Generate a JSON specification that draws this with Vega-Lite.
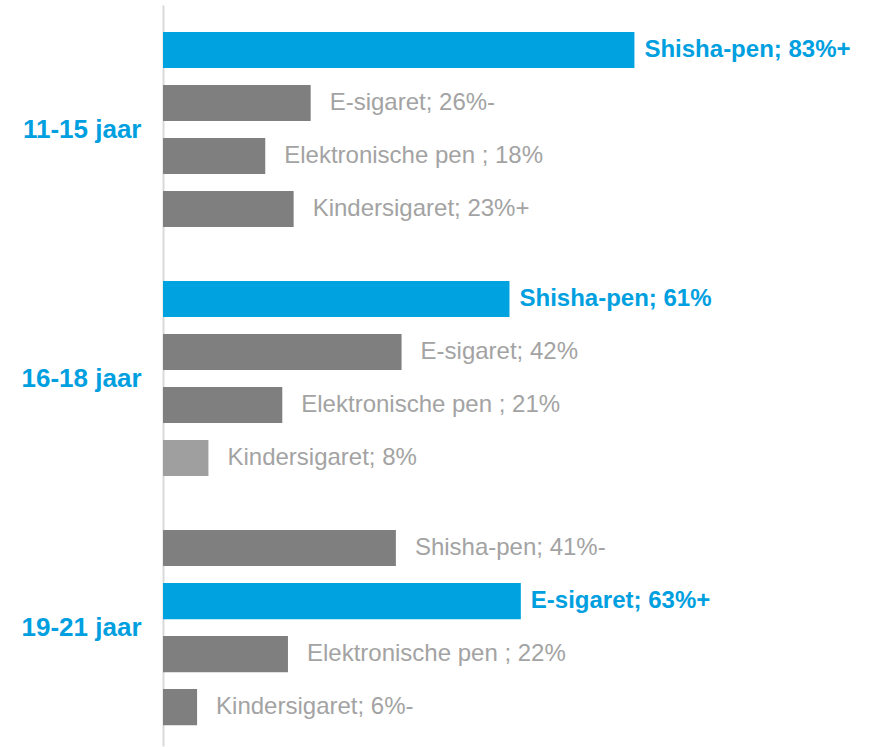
{
  "$schema": "https://vega.github.io/schema/vega-lite/v6.json",
  "autosize": "none",
  "width": 568,
  "height": 741,
  "padding": {"left": 163, "top": 5, "right": 148, "bottom": 1},
  "background": "white",
  "config": {"view": {"stroke": null}, "font": "Liberation Sans"},
  "data": {
    "values": [
      {"groep": "11-15 jaar", "product": "Shisha-pen", "pct": 83, "label": "Shisha-pen; 83%+", "markering": "hoogste"},
      {"groep": "11-15 jaar", "product": "E-sigaret", "pct": 26, "label": "E-sigaret; 26%-", "markering": "overig"},
      {"groep": "11-15 jaar", "product": "Elektronische pen", "pct": 18, "label": "Elektronische pen ; 18%", "markering": "overig"},
      {"groep": "11-15 jaar", "product": "Kindersigaret", "pct": 23, "label": "Kindersigaret; 23%+", "markering": "overig"},
      {"groep": "16-18 jaar", "product": "Shisha-pen", "pct": 61, "label": "Shisha-pen; 61%", "markering": "hoogste"},
      {"groep": "16-18 jaar", "product": "E-sigaret", "pct": 42, "label": "E-sigaret; 42%", "markering": "overig"},
      {"groep": "16-18 jaar", "product": "Elektronische pen", "pct": 21, "label": "Elektronische pen ; 21%", "markering": "overig"},
      {"groep": "16-18 jaar", "product": "Kindersigaret", "pct": 8, "label": "Kindersigaret; 8%", "markering": "licht"},
      {"groep": "19-21 jaar", "product": "Shisha-pen", "pct": 41, "label": "Shisha-pen; 41%-", "markering": "overig"},
      {"groep": "19-21 jaar", "product": "E-sigaret", "pct": 63, "label": "E-sigaret; 63%+", "markering": "hoogste"},
      {"groep": "19-21 jaar", "product": "Elektronische pen", "pct": 22, "label": "Elektronische pen ; 22%", "markering": "overig"},
      {"groep": "19-21 jaar", "product": "Kindersigaret", "pct": 6, "label": "Kindersigaret; 6%-", "markering": "overig"}
    ]
  },
  "encoding": {
    "y": {
      "field": "groep",
      "type": "nominal",
      "sort": ["11-15 jaar", "16-18 jaar", "19-21 jaar"],
      "scale": {"paddingInner": 0.1486, "paddingOuter": 0.0622, "align": 0.6},
      "axis": {
        "title": null,
        "ticks": false,
        "labelPadding": 22,
        "labelFont": "Liberation Sans",
        "labelFontSize": 26,
        "labelFontWeight": "bold",
        "labelColor": "#00a0e0",
        "domainColor": "#d9d9d9",
        "domainWidth": 2
      }
    },
    "yOffset": {
      "field": "product",
      "type": "nominal",
      "sort": ["Shisha-pen", "E-sigaret", "Elektronische pen", "Kindersigaret"],
      "scale": {"paddingInner": 0.32, "paddingOuter": 0.16}
    },
    "x": {
      "field": "pct",
      "type": "quantitative",
      "scale": {"domain": [0, 100], "nice": false},
      "axis": null
    }
  },
  "layer": [
    {
      "mark": {"type": "bar"},
      "encoding": {
        "color": {
          "field": "markering",
          "type": "nominal",
          "scale": {"domain": ["hoogste", "overig", "licht"], "range": ["#00a2e0", "#7f7f7f", "#9f9f9f"]},
          "legend": null
        }
      }
    },
    {
      "transform": [{"filter": "datum.markering !== 'hoogste'"}],
      "mark": {"type": "text", "align": "left", "baseline": "middle", "dx": 19, "fontSize": 24, "color": "#a3a3a3", "font": "Liberation Sans"},
      "encoding": {"text": {"field": "label", "type": "nominal"}}
    },
    {
      "transform": [{"filter": "datum.markering === 'hoogste'"}],
      "mark": {"type": "text", "align": "left", "baseline": "middle", "dx": 10, "fontSize": 24, "fontWeight": "bold", "color": "#00a0e0", "font": "Liberation Sans"},
      "encoding": {"text": {"field": "label", "type": "nominal"}}
    }
  ]
}
